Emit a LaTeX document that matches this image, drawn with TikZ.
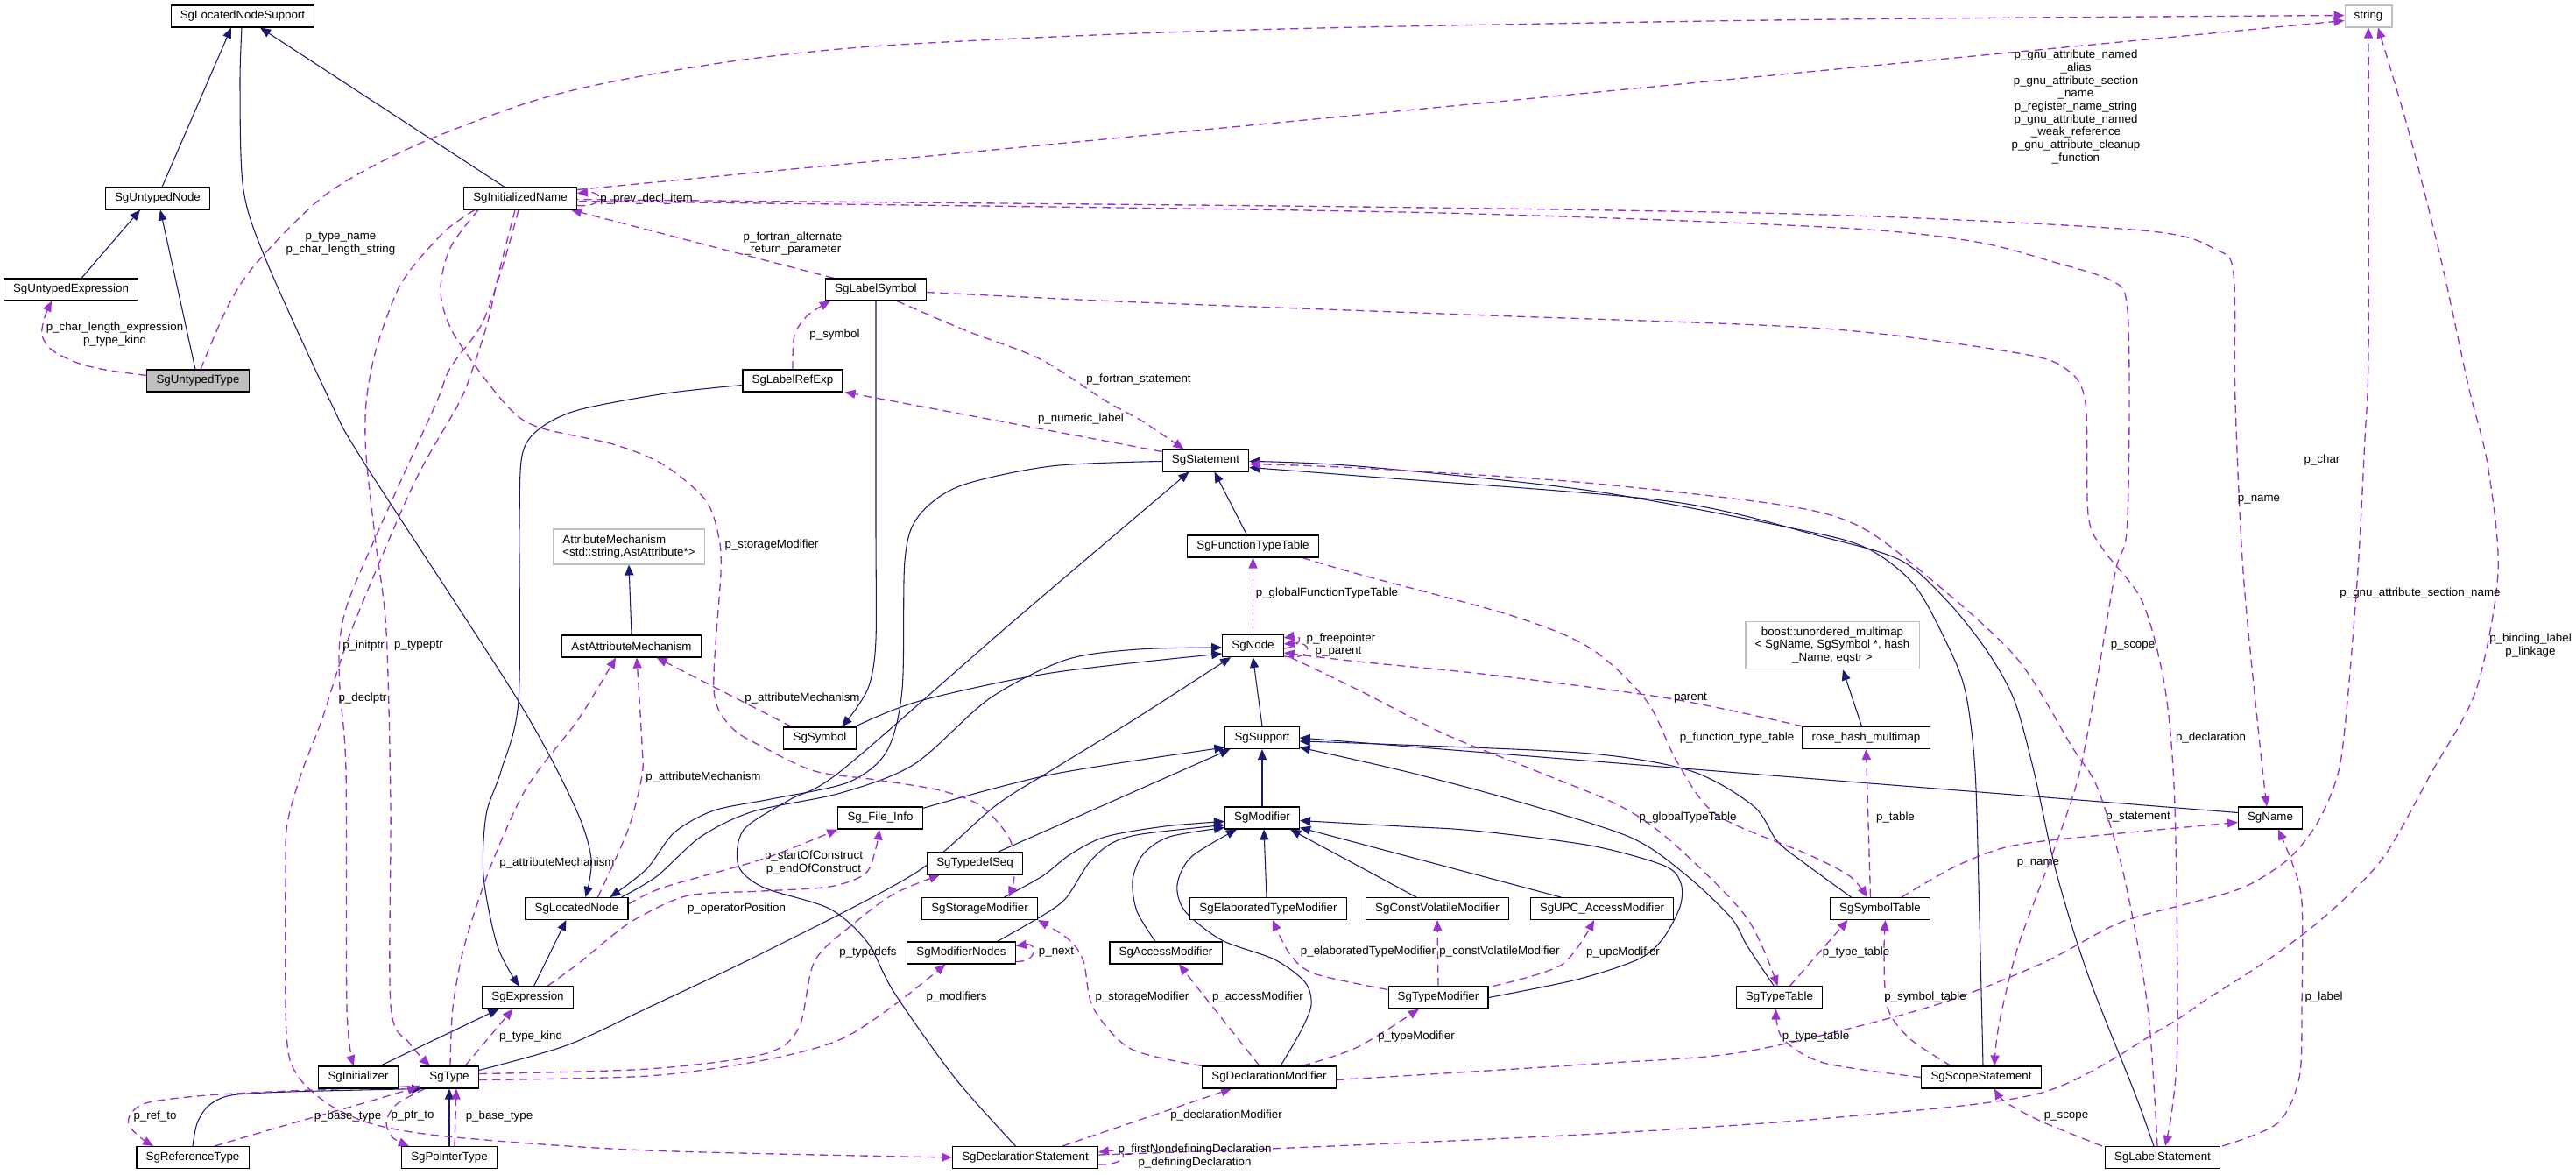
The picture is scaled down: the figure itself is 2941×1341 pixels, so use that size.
\documentclass[tikz,border=0pt]{standalone}
\usepackage{fontspec}
\setmainfont{Liberation Sans}
\usetikzlibrary{arrows.meta,calc}
\pgfdeclarelayer{bg}
\pgfsetlayers{bg,main}
\definecolor{navy}{HTML}{191970}
\definecolor{orch}{HTML}{9A32CD}
\definecolor{lgray}{HTML}{BFBFBF}
\newcommand\dfont{\fontsize{10}{11}\selectfont}
\begin{document}
\begin{tikzpicture}[x=0.75pt,y=-0.75pt,
  cbox/.style={draw=black, line width=0.8pt, fill=white, font=\dfont, inner xsep=8pt, inner ysep=0pt, minimum height=18.75pt},
  gbox/.style={cbox, draw=lgray},
  lbl/.style={font=\dfont, inner sep=0pt, align=center},
  inhedge/.style={navy, line width=0.8pt, -{Triangle[length=9pt,width=7.5pt]}},
  usedge/.style={orch, line width=1pt, dash pattern=on 7pt off 4.5pt, -{Triangle[length=9pt,width=7.5pt]}}]
\useasboundingbox (0,0) rectangle (2941,1341);

% ---------------- nodes
\node[cbox] (sln) at (277,18.5) {SgLocatedNodeSupport};
\node[gbox] (str) at (2704,18.5) {string};
\node[cbox] (un) at (180,226.5) {SgUntypedNode};
\node[cbox] (in) at (594,226.5) {SgInitializedName};
\node[cbox] (ue) at (81,330.5) {SgUntypedExpression};
\node[cbox] (ls) at (1000,330.5) {SgLabelSymbol};
\node[cbox, fill=lgray] (ut) at (226,434.5) {SgUntypedType};
\node[cbox] (lr) at (905,434.5) {SgLabelRefExp};
\node[cbox] (st) at (1376.5,525.5) {SgStatement};
\node[gbox, align=left, minimum height=30pt] (am) at (718,624) {AttributeMechanism\\<std::string,AstAttribute*>};
\node[cbox] (ftt) at (1430.5,623.5) {SgFunctionTypeTable};
\node[cbox] (aam) at (721,737.5) {AstAttributeMechanism};
\node[cbox] (sgn) at (1430.5,737) {SgNode};
\node[gbox, align=center, minimum height=41pt] (bm) at (2092,736.5) {boost::unordered\_multimap\\< SgName, SgSymbol *, hash\\\_Name, eqstr >};
\node[cbox] (sym) at (936,842.5) {SgSymbol};
\node[cbox] (sup) at (1441,842) {SgSupport};
\node[cbox] (rhm) at (2130.5,842) {rose\_hash\_multimap};
\node[cbox] (fi) at (1005,933.5) {Sg\_File\_Info};
\node[cbox] (mod) at (1441,933.5) {SgModifier};
\node[cbox] (nm) at (2592,933.5) {SgName};
\node[cbox] (tds) at (1113,985.5) {SgTypedefSeq};
\node[cbox] (ln) at (658.5,1037) {SgLocatedNode};
\node[cbox] (stm) at (1118.5,1037) {SgStorageModifier};
\node[cbox] (etm) at (1448,1037) {SgElaboratedTypeModifier};
\node[cbox] (cvm) at (1641,1037) {SgConstVolatileModifier};
\node[cbox] (upc) at (1829,1037) {SgUPC\_AccessModifier};
\node[cbox] (symt) at (2146.5,1037) {SgSymbolTable};
\node[cbox] (mn) at (1097.5,1087.5) {SgModifierNodes};
\node[cbox] (acm) at (1331,1087.5) {SgAccessModifier};
\node[cbox] (ex) at (602.5,1138.5) {SgExpression};
\node[cbox] (tm) at (1642,1138.5) {SgTypeModifier};
\node[cbox] (tt) at (2031.5,1138.5) {SgTypeTable};
\node[cbox] (ini) at (409,1229.5) {SgInitializer};
\node[cbox] (ty) at (513,1229.5) {SgType};
\node[cbox] (dm) at (1449,1229.5) {SgDeclarationModifier};
\node[cbox] (ss) at (2262,1229.5) {SgScopeStatement};
\node[cbox] (rt) at (220,1321) {SgReferenceType};
\node[cbox] (pt) at (513,1321) {SgPointerType};
\node[cbox] (ds) at (1170.5,1321) {SgDeclarationStatement};
\node[cbox] (lst) at (2469,1321) {SgLabelStatement};

% ---------------- edges
\begin{pgfonlayer}{bg}
% inheritance
\draw[inhedge] ($(un.north)+(5,0)$) -- ($(sln.south)+(-13,0)$);
\draw[inhedge] ($(in.north)+(-18,0)$) -- ($(sln.south)+(20,0)$);
\draw[inhedge] ($(ue.north)+(12,0)$) -- ($(un.south)+(-20,0)$);
\draw[inhedge] ($(ut.north)+(-3,0)$) -- ($(un.south)+(3,0)$);
\draw[inhedge] plot[smooth] coordinates {($(sln.south)+(-1,0)$) (274,100) (278,217) (305,300) (378,460) (415,527) (590,797) (656,920) (675,980) ($(ln.north)+(10,0)$)};
\draw[inhedge] plot[smooth] coordinates {(ls.south) (1000,600) (1000,730) (993,780) (978,808) ($(sym.north)+(25,0)$)};
\draw[inhedge] plot[smooth] coordinates {($(lr.west)+(0,5)$) (760,449) (660,468) (615,490) (596,520) (593,600) (592,800) (572,880) (555,930) (552,1000) (568,1080) ($(ex.north)+(-10,0)$)};
\draw[inhedge] ($(ex.north)+(7,0)$) -- ($(ln.south)+(-12,0)$);
\draw[inhedge] ($(ini.north)+(25,0)$) -- ($(ex.south)+(-33,0)$);
\draw[inhedge] plot[smooth] coordinates {($(ty.north east)+(0,5)$) (647,1193) (740,1150) (872,1087) (1044,997) (1136,920) (1199,880) (1300,818) ($(sgn.south west)+(10,0)$)};
\draw[inhedge] plot[smooth] coordinates {(rt.north) (225,1282) (238,1262) (264,1250) (330,1246) ($(ty.south west)+(3,0)$)};
\draw[inhedge] (pt.north) -- (ty.south);
\draw[inhedge] plot[smooth] coordinates {($(st.west)+(0,1)$) (1200,532) (1095,555) (1048,590) (1033,640) (1030,787) (1012,858) (968,893) (880,912) (815,925) (770,950) (738,992) ($(ln.north)+(38,0)$)};
\draw[inhedge] plot[smooth] coordinates {($(ln.north east)+(-8,0)$) (750,1000) (800,955) (860,926) (960,905) (1044,872) (1130,797) (1217,753) (1300,741) ($(sgn.west)+(0,2)$)};
\draw[inhedge] plot[smooth] coordinates {($(sym.north east)+(-2,0)$) (1050,800) (1200,768) ($(sgn.west)+(0,9)$)};
\draw[inhedge] (sup.north) -- (sgn.south);
\draw[inhedge] ($(ftt.north)+(-7,0)$) -- ($(st.south)+(10,0)$);
\draw[inhedge] plot[smooth] coordinates {($(ds.north)+(-11,0)$) (1090,1230) (1021,1133) (990,1075) (947,1037) (872,1013) (843,988) (849,947) (901,913) (960,880) (1150,715) ($(st.south)+(-19,0)$)};
\draw[inhedge] (mod.north) -- (sup.south);
\draw[inhedge] plot[smooth] coordinates {($(fi.north east)+(0,2)$) (1200,884) ($(sup.west)+(0,11)$)};
\draw[inhedge] ($(tds.north)+(26,0)$) -- ($(sup.south west)+(6,0)$);
\draw[inhedge] ($(nm.west)+(0,-6)$) -- (sup.east);
\draw[inhedge] plot[smooth] coordinates {($(symt.north)+(-33,0)$) (2060,985) (2029,960) (2002,920) (1931,880) (1816,860) (1600,850) ($(sup.east)+(0,4)$)};
\draw[inhedge] plot[smooth] coordinates {($(tt.north)+(-6,0)$) (1995,1080) (1976,1047) (1923,997) (1860,955) (1727,913) (1603,880) ($(sup.east)+(0,11)$)};
\draw[inhedge] plot[smooth] coordinates {($(ss.north)+(2,0)$) (2260,1050) (2255,880) (2244,790) (2224,737) (2185,667) (2130,625) (2047,603) (1816,560) (1550,532) ($(st.east)+(0,1)$)};
\draw[inhedge] plot[smooth] coordinates {($(lst.north)+(-10,0)$) (2437,1247) (2384,1113) (2348,997) (2322,880) (2300,800) (2270,745) (2225,688) (2171,640) (2082,613) (1905,572) (1550,543) ($(st.east)+(0,8)$)};
\draw[inhedge] plot[smooth] coordinates {($(stm.north)+(28,0)$) (1190,1000) (1222,975) (1262,955) (1330,943) ($(mod.west)+(0,4)$)};
\draw[inhedge] plot[smooth] coordinates {($(mn.north)+(41,0)$) (1190,1045) (1217,1025) (1243,985) (1268,963) (1303,952) ($(mod.west)+(0,8)$)};
\draw[inhedge] plot[smooth] coordinates {($(acm.north)+(-12,0)$) (1298,1040) (1293,1005) (1305,975) (1335,955) ($(mod.south west)+(0,-2)$)};
\draw[inhedge] plot[smooth] coordinates {($(dm.north)+(13,0)$) (1485,1177) (1497,1147) (1490,1121) (1455,1095) (1395,1073) (1353,1040) (1344,1010) (1360,978) ($(mod.south)+(-29,0)$)};
\draw[inhedge] ($(etm.north)+(-2,0)$) -- ($(mod.south)+(2,0)$);
\draw[inhedge] ($(cvm.north)+(-24,0)$) -- ($(mod.south east)+(-11,0)$);
\draw[inhedge] ($(upc.north)+(-47,0)$) -- ($(mod.east)+(0,11)$);
\draw[inhedge] plot[smooth] coordinates {(tm.east) (1800,1118) (1870,1095) (1898,1072) (1918,1035) (1919,1008) (1900,988) (1816,965) (1683,948) (1600,943) ($(mod.east)+(0,3)$)};
\draw[inhedge] ($(rhm.north)+(-5,0)$) -- ($(bm.south)+(12,0)$);
\draw[inhedge] (aam.north) -- (am.south);

% usage
\draw[usedge] plot[smooth] coordinates {($(ut.west)+(0,-6)$) (120,422) (88,414) (60,400) (48,383) (51,362) ($(ue.south)+(-22,0)$)};
\draw[usedge] plot[smooth] coordinates {($(ut.north)+(3,0)$) (260,350) (293,300) (372,222) (472,167) (600,118) (700,93) (850,68) (1010,52) (1300,38) (1600,30) (2100,22) ($(str.west)+(0,-1)$)};
\draw[usedge] ($(in.east)+(0,-10)$) -- ($(str.west)+(0,5)$);
\draw[usedge] ($(in.east)+(0,8)$) .. controls (690,237) and (690,218) .. ($(in.east)+(0,-6)$);
\draw[usedge] plot[smooth] coordinates {($(in.south)+(-2,0)$) (575,300) (550,370) (514,420) (498,460) (448,570) (400,680) (388,730) (388,787) (395,880) (396,1150) ($(ini.north)+(-5,0)$)};
\draw[usedge] plot[smooth] coordinates {($(in.south)+(-6,0)$) (570,310) (557,367) (540,420) (524,460) (472,553) (401,720) (368,820) (345,880) (328,940) (326,1000) (327,1180) (340,1228) (378,1262) (430,1284) (520,1298) (740,1313) (ds.west)};
\draw[usedge] plot[smooth] coordinates {($(in.south west)+(13,0)$) (510,262) (475,300) (453,333) (429,400) (418,460) (418,520) (429,620) (441,720) (446,920) (446,1147) (467,1190) ($(ty.north)+(-22,0)$)};
\draw[usedge] plot[smooth] coordinates {($(in.south west)+(17,0)$) (514,283) (503,333) (519,383) (576,460) (613,487) (700,507) (757,530) (805,570) (820,610) (823,653) (815,787) (835,830) (872,853) (930,880) (1000,890) (1073,902) (1120,920) (1153,958) (1158,1000) ($(stm.north)+(33,0)$)};
\draw[usedge] plot[smooth] coordinates {($(ty.west)+(0,10)$) (330,1245) (236,1250) (170,1258) (150,1270) (147,1284) (160,1298) ($(rt.north)+(-45,0)$)};
\draw[usedge] plot[smooth] coordinates {($(rt.north)+(25,0)$) (330,1283) (401,1263) ($(ty.south west)+(-2,-2)$)};
\draw[usedge] plot[smooth] coordinates {($(ty.south west)+(6,0)$) (453,1260) (441,1280) (448,1298) ($(pt.north)+(-46,0)$)};
\draw[usedge] ($(pt.north)+(6,0)$) -- ($(ty.south)+(8,0)$);
\draw[usedge] ($(ty.north)+(18,0)$) -- ($(ex.south)+(-17,0)$);
\draw[usedge] plot[smooth] coordinates {($(ty.north)+(1,0)$) (517,1150) (530,1080) (557,997) (590,920) (614,880) (661,820) ($(aam.south)+(-18,0)$)};
\draw[usedge] plot[smooth] coordinates {($(ln.north)+(24,0)$) (717,947) (733,885) (733,850) ($(aam.south)+(6,0)$)};
\draw[usedge] ($(sym.north)+(-32,0)$) -- ($(aam.south east)+(-51,0)$);
\draw[usedge] plot[smooth] coordinates {($(ln.east)+(0,-5)$) (757,1013) (872,980) (fi.south west)};
\draw[usedge] plot[smooth] coordinates {($(ex.north east)+(-30,0)$) (660,1100) (700,1067) (729,1047) (786,1022) (870,1017) (947,1012) (988,997) (1000,968) ($(fi.south)+(-1,0)$)};
\draw[usedge] plot[smooth] coordinates {($(ty.east)+(0,-4)$) (740,1220) (872,1203) (912,1173) (930,1097) (976,1053) (1021,1020) ($(tds.south)+(-40,0)$)};
\draw[usedge] plot[smooth] coordinates {($(ty.east)+(0,3)$) (740,1228) (872,1210) (958,1187) (1021,1147) ($(mn.south)+(-18,0)$)};
\draw[usedge] ($(mn.east)+(0,10)$) .. controls (1185,1098) and (1185,1076) .. ($(mn.east)+(0,-8)$);
\draw[usedge] plot[smooth] coordinates {(dm.north west) (1291,1197) (1248,1150) (1237,1097) (1220,1072) (stm.south east)};
\draw[usedge] ($(dm.north)+(-11,0)$) -- ($(acm.south)+(15,0)$);
\draw[usedge] plot[smooth] coordinates {($(dm.north east)+(-39,0)$) (1550,1195) ($(tm.south)+(-22,0)$)};
\draw[usedge] plot[smooth] coordinates {($(tm.west)+(0,-9)$) (1500,1111) (1472,1088) ($(etm.south)+(5,0)$)};
\draw[usedge] (tm.north) -- (cvm.south);
\draw[usedge] plot[smooth] coordinates {($(tm.north east)+(5,0)$) (1783,1101) ($(upc.south)+(-9,0)$)};
\draw[usedge] ($(ds.north east)+(-41,0)$) -- ($(dm.south)+(-43,0)$);
\draw[usedge] ($(ds.east)+(0,8)$) .. controls (1290,1330) and (1290,1310) .. ($(ds.east)+(0,-6)$);
\draw[usedge] plot[smooth] coordinates {($(dm.east)+(0,3)$) (1823,1214) (1994,1200) (2200,1150) (2330,1100) (2420,1053) (2503,1030) (2563,1012) (2613,980) (2647,937) (2670,880) (2680,800) (2692,650) (2700,500) (2704,400) (str.south)};
\draw[usedge] plot[smooth] coordinates {($(ds.east)+(0,-3)$) (1450,1311) (1823,1294) (2100,1275) (2331,1247) (2470,1173) (2520,1140) (2587,1097) (2653,1047) (2720,980) (2777,880) (2827,787) (2852,653) (2840,530) (2818,440) (2787,297) (2750,150) ($(str.south)+(11,0)$)};
\draw[usedge] plot[smooth] coordinates {($(ls.east)+(0,3)$) (1300,345) (1700,360) (2082,375) (2304,403) (2360,422) (2381,460) (2384,587) (2401,627) (2446,687) (2472,787) (2483,920) (2486,1180) (2480,1265) ($(lst.north)+(3,0)$)};
\draw[usedge] plot[smooth] coordinates {($(in.east)+(0,4)$) (700,230) (1600,242) (2082,259) (2250,275) (2348,300) (2410,320) (2428,345) (2431,460) (2428,607) (2415,653) (2390,800) (2372,890) (2345,970) (2304,1080) (2282,1170) ($(ss.north)+(15,0)$)};
\draw[usedge] plot[smooth] coordinates {(in.east) (700,228) (1550,236) (2082,245) (2446,263) (2530,285) (2550,313) (2552,460) (2561,653) (2580,850) ($(nm.north)+(-4,0)$)};
\draw[usedge] ($(ls.north west)+(10,0)$) -- ($(in.south east)+(-7,0)$);
\draw[usedge] plot[smooth] coordinates {(lr.north) (907,383) (922,360) ($(ls.south)+(-52,0)$)};
\draw[usedge] plot[smooth] coordinates {($(ls.south)+(24,0)$) (1102,377) (1188,410) (1263,458) (1303,480) ($(st.north)+(-25,0)$)};
\draw[usedge] ($(st.north west)+(0,3)$) -- ($(lr.south east)+(2,0)$);
\draw[usedge] ($(sgn.east)+(0,3)$) .. controls (1487,738) and (1487,724) .. ($(sgn.east)+(0,-9)$);
\draw[usedge] ($(sgn.east)+(0,12)$) .. controls (1500,754) and (1500,732) .. ($(sgn.east)+(0,-2)$);
\draw[usedge] (sgn.north) -- (ftt.south);
\draw[usedge] plot[smooth] coordinates {($(ftt.south east)+(-19,0)$) (1550,655) (1727,703) (1816,740) (1880,800) (1915,870) (1960,930) (2064,975) (2112,1000) ($(symt.north)+(-15,0)$)};
\draw[usedge] ($(symt.north)+(-11,0)$) -- (rhm.south);
\draw[usedge] plot[smooth] coordinates {($(sgn.south east)+(7,0)$) (1550,787) (1650,838) (1754,880) (1850,920) (1910,962) (1994,1047) ($(tt.north)+(-2,0)$)};
\draw[usedge] plot[smooth] coordinates {($(rhm.north west)+(1,0)$) (1905,797) (1700,770) (1550,755) ($(sgn.east)+(0,8)$)};
\draw[usedge] plot[smooth] coordinates {($(symt.north east)+(-33,0)$) (2230,990) (2286,968) (2350,958) ($(nm.west)+(0,5)$)};
\draw[usedge] ($(tt.north east)+(-38,0)$) -- ($(symt.south)+(-37,0)$);
\draw[usedge] plot[smooth] coordinates {($(ss.north west)+(34,0)$) (2180,1185) (2155,1150) (2151,1090) ($(symt.south)+(6,0)$)};
\draw[usedge] plot[smooth] coordinates {(ss.west) (2082,1213) (2035,1185) ($(tt.south)+(-4,0)$)};
\draw[usedge] plot[smooth] coordinates {($(lst.north west)+(-3,0)$) (2331,1280) (2290,1258) ($(ss.south)+(15,0)$)};
\draw[usedge] plot[smooth] coordinates {($(lst.north east)+(2,0)$) (2600,1282) (2625,1230) (2628,1147) (2628,1030) (2617,985) ($(nm.south)+(9,0)$)};
\draw[usedge] plot[smooth] coordinates {($(lst.north)+(-6,0)$) (2452,1150) (2425,1000) (2395,900) (2366,853) (2304,753) (2215,670) (2127,603) (2038,577) (1800,550) (1550,534) ($(st.east)+(0,4)$)};
\end{pgfonlayer}

% ---------------- labels
\node[lbl] (l1) at (131,381.5) {p\_char\_length\_expression\\p\_type\_kind};
\node[lbl] (l2) at (389,278) {p\_type\_name\\p\_char\_length\_string};
\node[lbl] (l3) at (738,227) {p\_prev\_decl\_item};
\node[lbl] (l4) at (905,278) {p\_fortran\_alternate\\\_return\_parameter};
\node[lbl] (l5) at (2370,122) {p\_gnu\_attribute\_named\\\_alias\\p\_gnu\_attribute\_section\\\_name\\p\_register\_name\_string\\p\_gnu\_attribute\_named\\\_weak\_reference\\p\_gnu\_attribute\_cleanup\\\_function};
\node[lbl] (l6) at (953,382) {p\_symbol};
\node[lbl] (l7) at (1300,433) {p\_fortran\_statement};
\node[lbl] (l8) at (1234,478) {p\_numeric\_label};
\node[lbl] (l9) at (881,622) {p\_storageModifier};
\node[lbl] (l10) at (415,737) {p\_initptr};
\node[lbl] (l11) at (478,737) {p\_typeptr};
\node[lbl] (l12) at (414,797) {p\_declptr};
\node[lbl] (l13) at (1515,677) {p\_globalFunctionTypeTable};
\node[lbl] (l14) at (1531,729) {p\_freepointer};
\node[lbl] (l15) at (1528,744) {p\_parent};
\node[lbl] (l16) at (916,797) {p\_attributeMechanism};
\node[lbl] (l17) at (803,887) {p\_attributeMechanism};
\node[lbl] (l18) at (636,985) {p\_attributeMechanism};
\node[lbl] (l19) at (1930,797) {parent};
\node[lbl] (l20) at (1983,842) {p\_function\_type\_table};
\node[lbl] (l21) at (2651,525) {p\_char};
\node[lbl] (l22) at (2579,570) {p\_name};
\node[lbl] (l23) at (2763,677) {p\_gnu\_attribute\_section\_name};
\node[lbl] (l24) at (2889,736.5) {p\_binding\_label\\p\_linkage};
\node[lbl] (l25) at (2435,737) {p\_scope};
\node[lbl] (l26) at (2524,842) {p\_declaration};
\node[lbl] (l27) at (929,984.5) {p\_startOfConstruct\\p\_endOfConstruct};
\node[lbl] (l28) at (841,1037) {p\_operatorPosition};
\node[lbl] (l29) at (991,1087) {p\_typedefs};
\node[lbl] (l30) at (1206,1087) {p\_next};
\node[lbl] (l31) at (1092,1138) {p\_modifiers};
\node[lbl] (l32) at (1304,1138) {p\_storageModifier};
\node[lbl] (l33) at (1436,1138) {p\_accessModifier};
\node[lbl] (l34) at (1400,1273) {p\_declarationModifier};
\node[lbl] (l35) at (1364,1319.5) {p\_firstNondefiningDeclaration\\p\_definingDeclaration};
\node[lbl] (l36) at (1562,1086) {p\_elaboratedTypeModifier};
\node[lbl] (l37) at (1712,1086) {p\_constVolatileModifier};
\node[lbl] (l38) at (1853,1087) {p\_upcModifier};
\node[lbl] (l39) at (1617,1183) {p\_typeModifier};
\node[lbl] (l40) at (1927,933) {p\_globalTypeTable};
\node[lbl] (l41) at (2164,933) {p\_table};
\node[lbl] (l42) at (2441,933) {p\_statement};
\node[lbl] (l43) at (2327,985) {p\_name};
\node[lbl] (l44) at (2119,1087) {p\_type\_table};
\node[lbl] (l45) at (2198,1138) {p\_symbol\_table};
\node[lbl] (l46) at (2653,1138) {p\_label};
\node[lbl] (l47) at (2073,1183) {p\_type\_table};
\node[lbl] (l48) at (2359,1274) {p\_scope};
\node[lbl] (l49) at (606,1183) {p\_type\_kind};
\node[lbl] (l50) at (177,1274) {p\_ref\_to};
\node[lbl] (l51) at (397,1274) {p\_base\_type};
\node[lbl] (l52) at (471,1274) {p\_ptr\_to};
\node[lbl] (l53) at (570,1274) {p\_base\_type};
\end{tikzpicture}
\end{document}
